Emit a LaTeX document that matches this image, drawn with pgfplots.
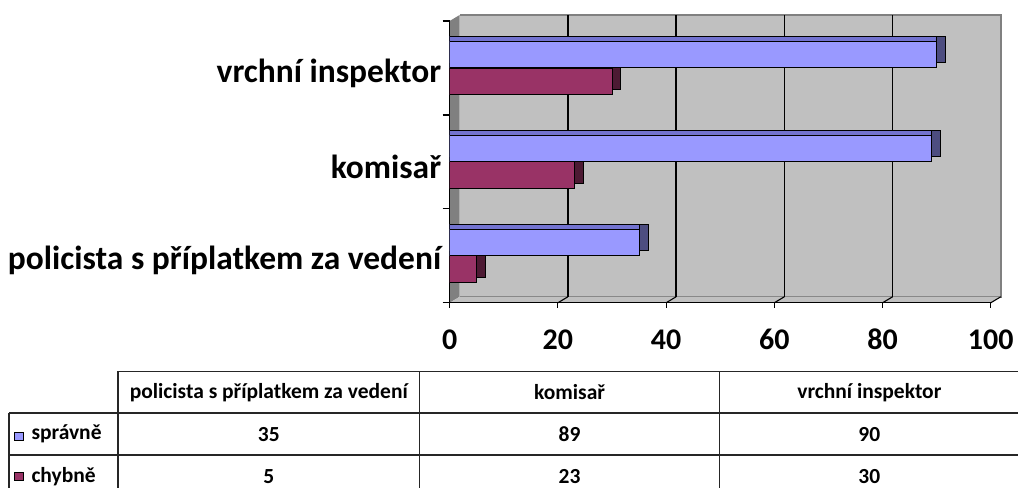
\documentclass[border=0pt]{standalone}
\usepackage{fontspec}
\setmainfont{Carlito}[Numbers=Lining]
\usepackage{pgfplots}
\pgfplotsset{compat=1.18}
\definecolor{sprF}{HTML}{9999FF}
\definecolor{sprT}{HTML}{7373D0}
\definecolor{sprS}{HTML}{4D4D80}
\definecolor{chyF}{HTML}{993366}
\definecolor{chyS}{HTML}{4D1A33}
\definecolor{wall}{HTML}{C0C0C0}
\definecolor{wallD}{HTML}{808080}
\newcommand{\tfont}{\fontsize{21.5}{25}\selectfont\bfseries}

\begin{document}
\begin{tikzpicture}
\begin{scope}[x=1pt,y=1pt]
\path[use as bounding box] (0,0) rectangle (1019,-488);
% 3D walls behind the plot
\fill[wall] (460,-297) rectangle (1001.5,-15);
\draw[wallD, line width=1.5pt] (460,-297) -- (1001.5,-297) -- (1001.5,-15) -- (460,-15);
\fill[wallD] (450,-303) -- (460,-297) -- (460,-15) -- (450,-21) -- cycle;
\fill[wall] (450,-303) -- (991.5,-303) -- (1001.5,-297) -- (460,-297) -- cycle;
\foreach \v in {20,40,60,80} {
  \draw[black, line width=1.3pt] ({460+\v*5.415},-297) -- ({460+\v*5.415},-15);
  \draw[black, line width=1.1pt] ({450+\v*5.415},-303) -- ({460+\v*5.415},-297);
}
\draw[black, line width=1.1pt] (991.5,-303) -- (1001.5,-297);
\end{scope}

\begin{axis}[
  at={(450pt,-303pt)}, anchor=south west,
  scale only axis, width=541.5pt, height=282pt,
  xmin=0, xmax=100, ymin=-0.5, ymax=2.5,
  axis x line*=bottom, axis y line*=left,
  axis line style={black, line width=1.3pt, -},
  xbar, bar width=0.285,
  xtick={0,20,...,100},
  tick align=outside, major tick length=5pt,
  xtick style={black, line width=1.2pt},
  xticklabel style={font=\fontsize{30}{34}\selectfont\bfseries, anchor=base, yshift=-42pt},
  /pgf/number format/assume math mode=true,
  ytick={0,1,2},
  yticklabels={policista s příplatkem za vedení, komisař, vrchní inspektor},
  ytick style={draw=none},
  yticklabel style={font=\fontsize{33.5}{37}\selectfont\bfseries, yshift=-5pt},
  extra y ticks={-0.5,0.5,1.5,2.5},
  extra y tick labels={},
  extra y tick style={ytick style={draw=black, line width=1.2pt}, major tick length=7pt},
]
% chybně: side face (shifted back), then front
\addplot[xshift=9pt, fill=chyS, draw=black, line width=1pt, bar shift=-0.090]
  coordinates {(5,0) (23,1) (30,2)};
\addplot[fill=chyF, draw=black, line width=1pt, bar shift=-0.143]
  coordinates {(5,0) (23,1) (30,2)};
% správně: side, top, front
\addplot[xshift=9pt, fill=sprS, draw=black, line width=1pt, bar shift=0.196]
  coordinates {(35,0) (89,1) (90,2)};
\addplot[fill=sprT, draw=black, line width=1pt, bar shift=0.196]
  coordinates {(35,0) (89,1) (90,2)};
\addplot[fill=sprF, draw=black, line width=1pt, bar shift=0.143]
  coordinates {(35,0) (89,1) (90,2)};
\end{axis}

% data table
\begin{scope}[x=1pt,y=1pt]
\begin{scope}[line width=1.5pt, black!85]
\draw (118,-371.7) -- (1019,-371.7);
\draw (9,-413.3) -- (1019,-413.3);
\draw (9,-455.5) -- (1019,-455.5);
\draw (9,-413.3) -- (9,-488);
\draw (118,-371.7) -- (118,-488);
\draw (420,-371.7) -- (420,-488);
\draw (720,-371.7) -- (720,-488);
\end{scope}
\node[font=\tfont] at (269,-392.5) {policista s příplatkem za vedení};
\node[font=\tfont] at (570,-392.5) {komisař};
\node[font=\tfont] at (870,-392.5) {vrchní inspektor};
\draw[fill=sprF, line width=1pt] (15,-432.5) rectangle (23.5,-441);
\node[font=\tfont, anchor=west] at (28,-434.4) {správně};
\draw[fill=chyF, line width=1pt] (15,-472.5) rectangle (23.5,-481);
\node[font=\tfont, anchor=west] at (28,-476.6) {chybně};
\node[font=\tfont] at (269,-434.4) {35};
\node[font=\tfont] at (570,-434.4) {89};
\node[font=\tfont] at (870,-434.4) {90};
\node[font=\tfont] at (269,-476.6) {5};
\node[font=\tfont] at (570,-476.6) {23};
\node[font=\tfont] at (870,-476.6) {30};
\end{scope}
\end{tikzpicture}
\end{document}
